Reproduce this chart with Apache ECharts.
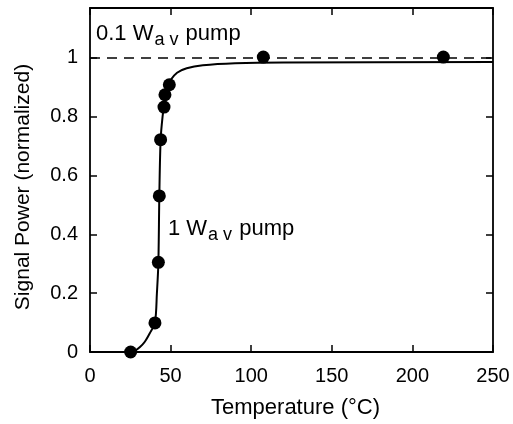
<!DOCTYPE html>
<html>
<head>
<meta charset="utf-8">
<script src="https://cdn.jsdelivr.net/npm/echarts@6/dist/echarts.min.js"></script>
<style>
  html, body { margin: 0; padding: 0; background: #fff; }
  #chart { width: 513px; height: 424px; }
</style>
</head>
<body>
<div id="chart"></div>
<script>
// measured points (1 W av pump)
const tempPoints = [25.2, 40.3, 42.4, 43.0, 43.8, 45.9, 46.5, 49.2, 107.5, 219.2]
const powerPoints = [0, 0.099, 0.305, 0.531, 0.722, 0.833, 0.875, 0.909, 1.003, 1.003]

// fitted curve
const curveTemp = [25, 28, 31, 34, 37, 40.3, 41.5, 42.4, 43.0, 43.8, 45, 46.5, 48, 50, 54, 60, 70, 90, 120, 250]
const curvePower = [0, 0.005, 0.017, 0.035, 0.063, 0.1, 0.2, 0.3, 0.53, 0.72, 0.8, 0.86, 0.9, 0.925, 0.95, 0.965, 0.975, 0.982, 0.985, 0.986]

// 0.1 W av pump reference level
const refTemp = [0, 250]
const refPower = [1.0, 1.0]

const font = 'Liberation Sans, Arial, sans-serif'

const chart = echarts.init(document.getElementById('chart'))

// fresh objects per axis so nothing gets shared
const axisLine = () => ({ show: true, onZero: false, lineStyle: { color: '#000', width: 1.8 } })
const axisTick = () => ({ show: true, inside: true, length: 7, lineStyle: { color: '#000', width: 1.5 } })

const rich = {
  n: { fontFamily: font, fontSize: 22, fill: '#000', verticalAlign: 'bottom', letterSpacing: 0.6 },
  s: { fontFamily: font, fontSize: 18, fill: '#000', verticalAlign: 'bottom', padding: [0, 1, -4, 1], letterSpacing: 0.6 }
}

chart.setOption({
  animation: false,
  grid: { left: 90, right: 20, top: 8, bottom: 72 },
  xAxis: [
    {
      type: 'value', min: 0, max: 250, interval: 50,
      name: 'Temperature (°C)', nameLocation: 'middle', nameGap: 45,
      nameTextStyle: { fontFamily: font, fontSize: 22, color: '#000', padding: [0, 0, 0, 8] },
      axisLine: axisLine(), axisTick: axisTick(),
      axisLabel: { fontFamily: font, fontSize: 20, color: '#000', margin: 14 },
      splitLine: { show: false }
    },
    {
      type: 'value', min: 0, max: 250, interval: 50, position: 'top',
      axisLine: axisLine(), axisTick: axisTick(),
      axisLabel: { show: false }, splitLine: { show: false }
    }
  ],
  yAxis: [
    {
      type: 'value', min: 0, max: 1.17, interval: 0.2,
      name: 'Signal Power (normalized)', nameLocation: 'middle', nameGap: 56,
      nameTextStyle: { fontFamily: font, fontSize: 21, color: '#000', padding: [0, 0, 0, -14] },
      axisLine: axisLine(), axisTick: axisTick(),
      axisLabel: { fontFamily: font, fontSize: 20, color: '#000', margin: 12, showMaxLabel: false },
      splitLine: { show: false }
    },
    {
      type: 'value', min: 0, max: 1.17, interval: 0.2, position: 'right',
      axisLine: axisLine(), axisTick: axisTick(),
      axisLabel: { show: false }, splitLine: { show: false }
    }
  ],
  series: [
    {
      type: 'line',
      data: refTemp.map((t, i) => [t, refPower[i]]),
      symbol: 'none',
      lineStyle: { color: '#000', width: 1.3, type: [10, 7] },
      z: 1
    },
    {
      type: 'line',
      data: curveTemp.map((t, i) => [t, curvePower[i]]),
      symbol: 'none',
      smooth: 0.3,
      lineStyle: { color: '#000', width: 2 },
      z: 2
    },
    {
      type: 'scatter',
      data: tempPoints.map((t, i) => [t, powerPoints[i]]),
      symbol: 'circle',
      symbolSize: 13,
      itemStyle: { color: '#000', opacity: 1 },
      z: 3
    }
  ],
  graphic: [
    {
      type: 'text', left: 96, top: 23,
      style: { text: '{n|0.1 W}{s|a v}{n| pump}', rich }
    },
    {
      type: 'text', left: 168, top: 218,
      style: { text: '{n|1 W}{s|a v}{n| pump}', rich }
    }
  ]
})
</script>
</body>
</html>
